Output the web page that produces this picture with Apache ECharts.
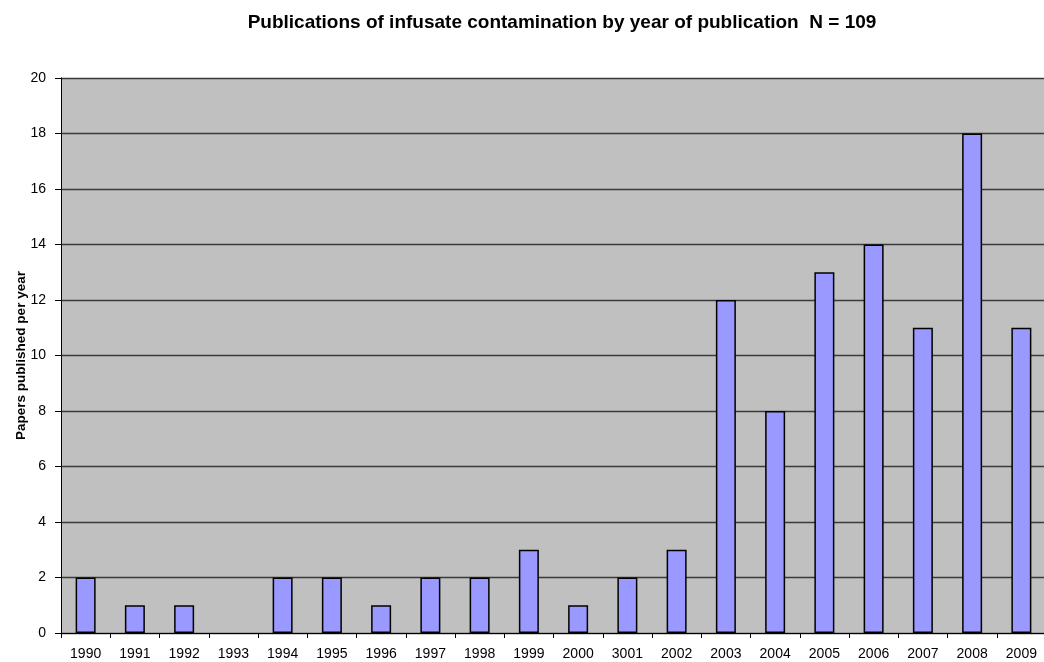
<!DOCTYPE html>
<html>
<head>
<meta charset="utf-8">
<script src="https://cdn.jsdelivr.net/npm/echarts@6/dist/echarts.min.js"></script>
<style>
  html, body { margin: 0; padding: 0; background: #fff; }
  #chart { width: 1044px; height: 662px; }
</style>
</head>
<body>
<div id="chart"></div>
<script>
// Publication years (label "3001" kept as printed on the axis)
const years = ['1990', '1991', '1992', '1993', '1994', '1995', '1996', '1997', '1998', '1999',
               '2000', '3001', '2002', '2003', '2004', '2005', '2006', '2007', '2008', '2009'];
// Papers published in each year (total 109)
const papers = [2, 1, 1, 0, 2, 2, 1, 2, 2, 3, 1, 2, 3, 12, 8, 13, 14, 11, 18, 11];

const titleText = 'Publications of infusate contamination by year of publication  N = 109';
const yAxisName = 'Papers published per year';

const chart = echarts.init(document.getElementById('chart'), null, { renderer: 'canvas' });
const font = 'Liberation Sans, Arial, sans-serif';

// Years with no papers get no outlined box at the baseline
const barData = papers.map(v => v === 0
  ? { value: v, itemStyle: { borderWidth: 0, opacity: 0 } }
  : v);

chart.setOption({
  animation: false,
  textStyle: { fontFamily: font },
  title: {
    text: titleText,
    left: 557,
    textAlign: 'center',
    top: 8,
    textStyle: { fontFamily: font, fontSize: 19, fontWeight: 'bold', color: '#000' }
  },
  grid: {
    left: 61, top: 78, width: 985, bottom: 29,
    outerBoundsMode: 'none',
    containLabel: false,
    show: true, backgroundColor: '#C0C0C0', borderWidth: 0
  },
  xAxis: {
    type: 'category',
    data: years,
    axisLine: { lineStyle: { color: '#000', width: 1 } },
    axisTick: { show: true, alignWithLabel: false, length: 5, lineStyle: { color: '#000' } },
    axisLabel: { color: '#000', fontSize: 14, margin: 14, fontFamily: font, interval: 0 }
  },
  yAxis: {
    type: 'value',
    min: 0, max: 20, interval: 2,
    name: yAxisName,
    nameLocation: 'middle',
    nameGap: 33,
    nameMoveOverlap: false,
    nameTextStyle: { fontFamily: font, fontSize: 13.5, fontWeight: 'bold', color: '#000' },
    axisLine: { show: true, lineStyle: { color: '#000', width: 1 } },
    axisTick: { show: true, length: 6, lineStyle: { color: '#000' } },
    axisLabel: { color: '#000', fontSize: 14, margin: 15, fontFamily: font },
    splitLine: { show: true, lineStyle: { color: '#3a3a3a', width: 1.3 } }
  },
  series: [{
    type: 'bar',
    data: barData,
    barWidth: 20,
    itemStyle: { color: '#9999FF', borderColor: '#000', borderWidth: 1.5 }
  }]
});
</script>
</body>
</html>
